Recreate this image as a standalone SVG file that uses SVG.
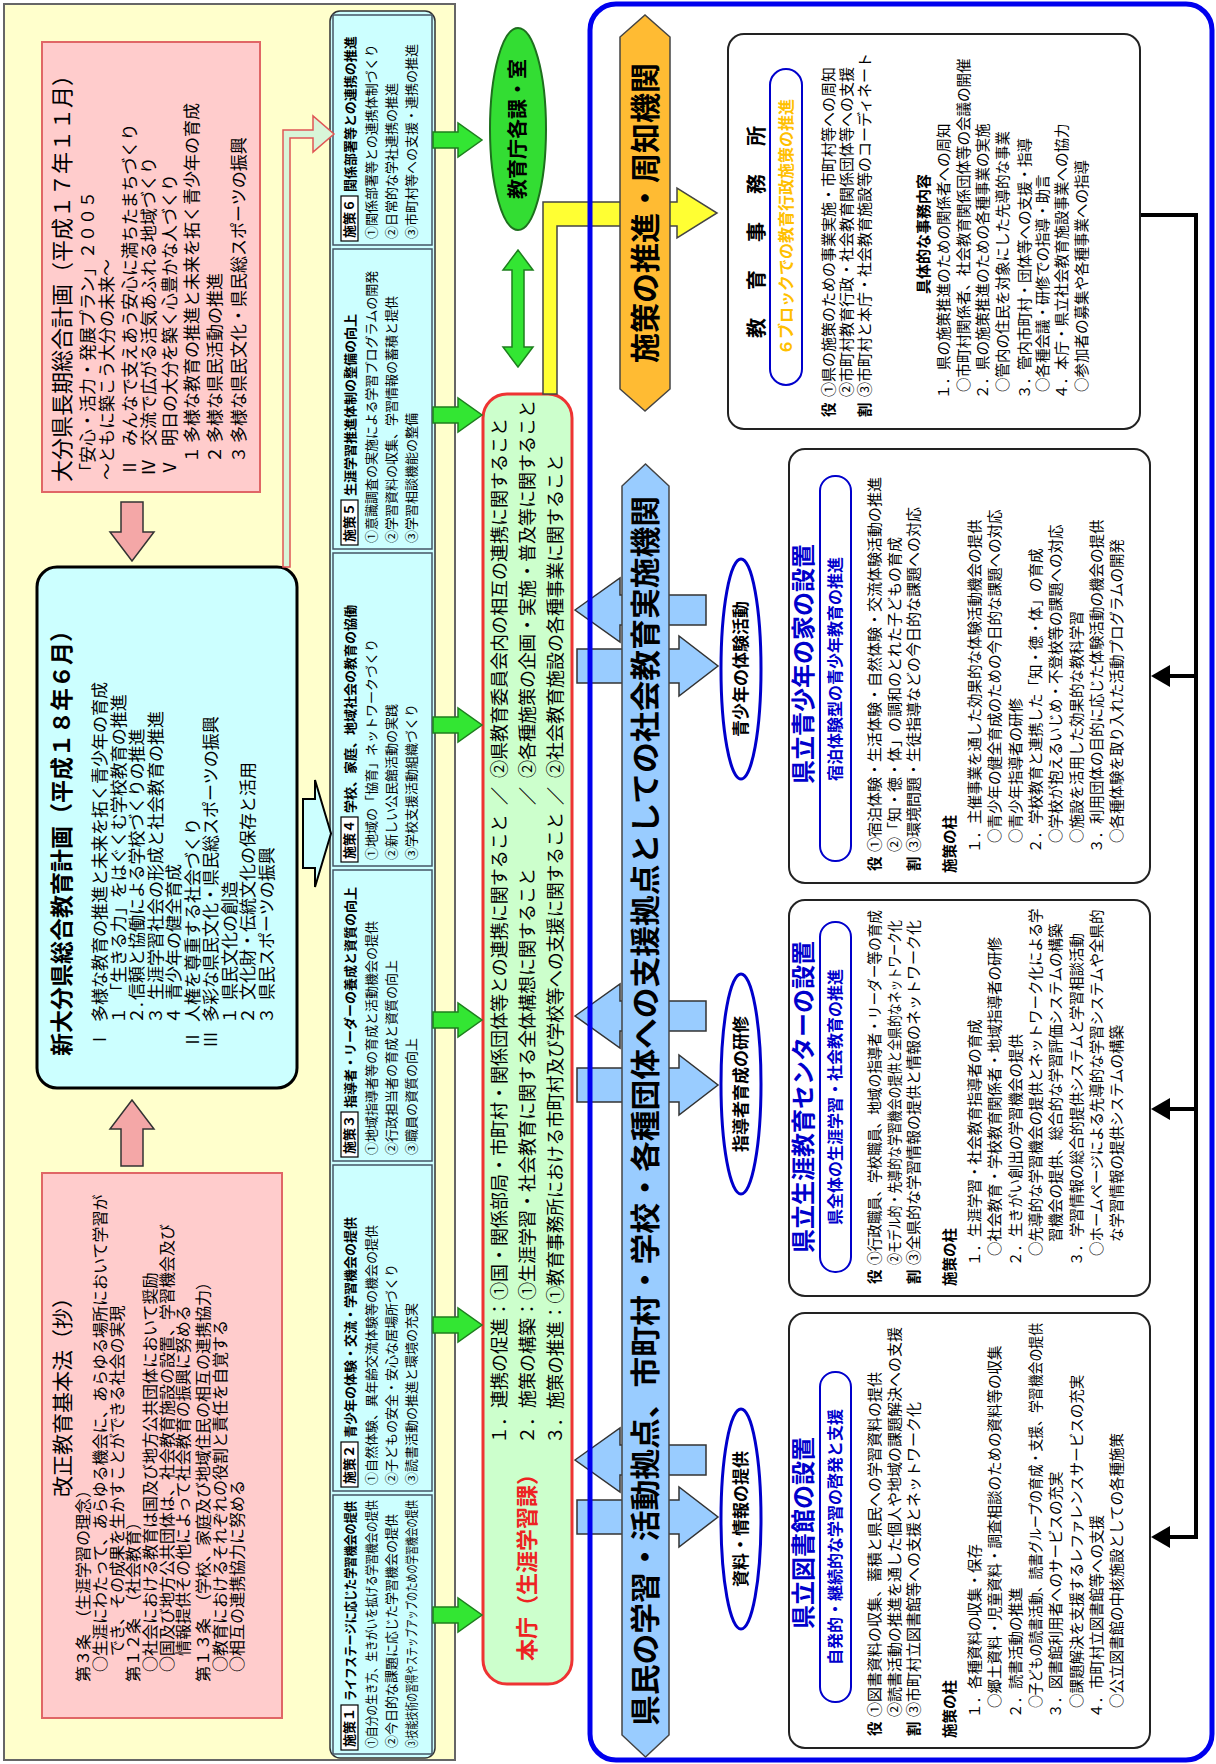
<svg xmlns="http://www.w3.org/2000/svg" width="1216" height="1764" viewBox="0 0 1216 1764">
<style>
text{font-family:"Noto Sans CJK JP","Noto Sans CJK SC",sans-serif;fill:#000}
.b{font-weight:bold}
.f13{font-size:13px}
.f14{font-size:14.5px}
.f15{font-size:15px}
.f16{font-size:16px}
.f17{font-size:17px}
.f18{font-size:18px}
.mid{text-anchor:middle}
.pinkbox{fill:#FFCCCC;stroke:#E06666;stroke-width:2}
.sbox{fill:#CCFFFF;stroke:#445566;stroke-width:1.5}
.lbl{fill:#fff;stroke:#000;stroke-width:1.2}
.parrow{fill:#F4A7A7;stroke:#333;stroke-width:1.5}
.garrow{fill:#33E633;stroke:#1E7F1E;stroke-width:1.5}
.barrow{fill:#99CCFF;stroke:#333;stroke-width:1.5}
.fbox{fill:#fff;stroke:#222;stroke-width:2}
.cap{fill:#fff;stroke:#0000CC;stroke-width:2}
.ell{fill:#fff;stroke:#0000CC;stroke-width:3}
.ft{font-size:24px;font-weight:bold;fill:#0000CC}
.ct{font-size:16px;font-weight:bold;fill:#0000CC}
.blk{stroke:#000;stroke-width:4;fill:none}
</style>
<rect width="1216" height="1764" fill="#fff"/>
<g transform="matrix(0,-1,1,0,0,1764)">
  <g id="panel-left">
    <rect x="4" y="4" width="1756" height="451" fill="#FFFFCC" stroke="#666" stroke-width="2"/>
  </g>
  <g id="panel-right-bg">
    <rect x="4" y="590" width="1756" height="622" rx="26" fill="#fff"/>
  </g>

  <g id="node-chouki">
    <rect class="pinkbox" x="1272" y="42" width="450" height="218"/>
    <text x="1282" y="70" style="font-size:22px">大分県長期総合計画（平成１７年１１月）</text>
    <text class="f17" x="1284" y="94">「安心・活力・発展プラン」２００５</text>
    <text class="f17" x="1284" y="113">～ともに築こう大分の未来～</text>
    <text class="f17" x="1288" y="136">Ⅱ</text><text class="f17" x="1318" y="136">みんなで支えあう安心に満ちたまちづくり</text>
    <text class="f17" x="1288" y="155">Ⅳ</text><text class="f17" x="1318" y="155">交流で広がる活気あふれる地域づくり</text>
    <text class="f17" x="1288" y="176">Ⅴ</text><text class="f17" x="1318" y="176">明日の大分を築く心豊かな人づくり</text>
    <text class="f17" x="1301" y="198">１</text><text class="f17" x="1321" y="198">多様な教育の推進と未来を拓く青少年の育成</text>
    <text class="f17" x="1301" y="221">２</text><text class="f17" x="1321" y="221">多様な県民活動の推進</text>
    <text class="f17" x="1301" y="245">３</text><text class="f17" x="1321" y="245">多様な県民文化・県民総スポーツの振興</text>
  </g>

  <g id="node-shin-keikaku">
    <rect x="676" y="37" width="521" height="260" rx="20" fill="#CCFFFF" stroke="#000" stroke-width="3"/>
    <text class="b" x="708" y="70" style="font-size:23px">新大分県総合教育計画（平成１８年６月）</text>
    <text class="f17" x="716" y="106">Ⅰ</text><text class="f17" x="742" y="106">多様な教育の推進と未来を拓く青少年の育成</text>
    <text class="f17" x="740" y="124.5">１</text><text class="f17" x="764" y="124.5">「生きる力」をはぐくむ学校教育の推進</text>
    <text class="f17" x="740" y="143">２.</text><text class="f17" x="764" y="143">信頼と協働による学校づくりの推進</text>
    <text class="f17" x="740" y="161.5">３</text><text class="f17" x="764" y="161.5">生涯学習社会の形成と社会教育の推進</text>
    <text class="f17" x="740" y="180">４</text><text class="f17" x="764" y="180">青少年の健全育成</text>
    <text class="f17" x="716" y="198.5">Ⅱ</text><text class="f17" x="742" y="198.5">人権を尊重する社会づくり</text>
    <text class="f17" x="716" y="217">Ⅲ</text><text class="f17" x="742" y="217">多彩な県民文化・県民総スポーツの振興</text>
    <text class="f17" x="740" y="235.5">１</text><text class="f17" x="764" y="235.5">県民文化の創造</text>
    <text class="f17" x="740" y="254">２</text><text class="f17" x="764" y="254">文化財・伝統文化の保存と活用</text>
    <text class="f17" x="740" y="272.5">３</text><text class="f17" x="764" y="272.5">県民スポーツの振興</text>
  </g>

  <g id="node-kaisei">
    <rect class="pinkbox" x="46" y="42" width="545" height="240"/>
    <text class="mid" x="372" y="70" style="font-size:21px">改正教育基本法（抄）</text>
    <text class="f16" x="82" y="89">第３条　（生涯学習の理念）</text>
    <text class="f16" x="92" y="106">○生涯にわたって、あらゆる機会に、あらゆる場所において学習が</text>
    <text class="f16" x="108" y="123">でき、その成果を生かすことができる社会の実現</text>
    <text class="f16" x="82" y="139">第１２条　（社会教育）</text>
    <text class="f16" x="92" y="156">○社会における教育は国及び地方公共団体において奨励</text>
    <text class="f16" x="92" y="173">○国及び地方公共団体は、社会教育施設の設置、学習機会及び</text>
    <text class="f16" x="108" y="189">情報提供その他によって社会教育の振興に努める</text>
    <text class="f16" x="82" y="209">第１３条　（学校、家庭及び地域住民の相互の連携協力）</text>
    <text class="f16" x="92" y="226">○教育におけるそれぞれの役割と責任を自覚する</text>
    <text class="f16" x="92" y="243">○相互の連携協力に努める</text>
  </g>

  <g id="node-shisaku-frame">
    <rect x="6" y="330" width="1747" height="105" rx="10" fill="#CCFFFF" stroke="#333" stroke-width="1.5"/>
  </g>
  <g id="node-shisaku1">
    <rect class="sbox" x="10" y="333" width="259" height="99"/>
    <rect class="lbl" x="14" y="341" width="45" height="17"/>
    <text class="b f13" x="17" y="354">施策１</text>
    <text class="b f13" x="63" y="355" textLength="200" lengthAdjust="spacingAndGlyphs">ライフステージに応じた学習機会の提供</text>
    <text class="f13" x="16" y="376" textLength="248" lengthAdjust="spacingAndGlyphs">①自分の生き方、生きがいを拡げる学習機会の提供</text>
    <text class="f13" x="16" y="396">②今日的な課題に応じた学習機会の提供</text>
    <text class="f13" x="16" y="416" textLength="248" lengthAdjust="spacingAndGlyphs">③技能技術の習得やステップアップのための学習機会の提供</text>
  </g>
  <g id="node-shisaku2">
    <rect class="sbox" x="273" y="333" width="326" height="99"/>
    <rect class="lbl" x="277" y="341" width="45" height="17"/>
    <text class="b f13" x="280" y="354">施策２</text>
    <text class="b f13" x="326" y="355">青少年の体験・交流・学習機会の提供</text>
    <text class="f13" x="279" y="376">①自然体験、異年齢交流体験等の機会の提供</text>
    <text class="f13" x="279" y="396">②子どもの安全・安心な居場所づくり</text>
    <text class="f13" x="279" y="416">③読書活動の推進と環境の充実</text>
  </g>
  <g id="node-shisaku3">
    <rect class="sbox" x="603" y="333" width="291" height="99"/>
    <rect class="lbl" x="607" y="341" width="45" height="17"/>
    <text class="b f13" x="610" y="354">施策３</text>
    <text class="b f13" x="656" y="355">指導者・リーダーの養成と資質の向上</text>
    <text class="f13" x="609" y="376">①地域指導者等の育成と活動機会の提供</text>
    <text class="f13" x="609" y="396">②行政担当者の育成と資質の向上</text>
    <text class="f13" x="609" y="416">③職員の資質の向上</text>
  </g>
  <g id="node-shisaku4">
    <rect class="sbox" x="898" y="333" width="313" height="99"/>
    <rect class="lbl" x="902" y="341" width="45" height="17"/>
    <text class="b f13" x="905" y="354">施策４</text>
    <text class="b f13" x="951" y="355">学校、家庭、地域社会の教育の協働</text>
    <text class="f13" x="904" y="376">①地域の「協育」ネットワークづくり</text>
    <text class="f13" x="904" y="396">②新しい公民館活動の実践</text>
    <text class="f13" x="904" y="416">③学校支援活動組織づくり</text>
  </g>
  <g id="node-shisaku5">
    <rect class="sbox" x="1215" y="333" width="300" height="99"/>
    <rect class="lbl" x="1219" y="341" width="45" height="17"/>
    <text class="b f13" x="1222" y="354">施策５</text>
    <text class="b f13" x="1268" y="355">生涯学習推進体制の整備の向上</text>
    <text class="f13" x="1221" y="376">①意識調査の実施による学習プログラムの開発</text>
    <text class="f13" x="1221" y="396">②学習資料の収集、学習情報の蓄積と提供</text>
    <text class="f13" x="1221" y="416">③学習相談機能の整備</text>
  </g>
  <g id="node-shisaku6">
    <rect class="sbox" x="1519" y="333" width="230" height="99"/>
    <rect class="lbl" x="1523" y="341" width="45" height="17"/>
    <text class="b f13" x="1526" y="354">施策６</text>
    <text class="b f13" x="1572" y="355">関係部署等との連携の推進</text>
    <text class="f13" x="1525" y="376">①関係部署等との連携体制づくり</text>
    <text class="f13" x="1525" y="396">②日常的な学社連携の推進</text>
    <text class="f13" x="1525" y="416">③市町村等への支援・連携の推進</text>
  </g>

  <g id="node-honcho">
    <rect x="80" y="483" width="1290" height="89" rx="24" fill="#CCFFCC" stroke="#EE3333" stroke-width="3"/>
    <text class="b" x="103" y="535" style="font-size:22px;fill:#EE2222">本庁（生涯学習課）</text>
    <text class="f18" x="320" y="506">１．連携の促進：①国・関係部局・市町村・関係団体等との連携に関すること</text>
    <text class="f18 mid" x="968" y="506">／</text>
    <text class="f18" x="986" y="506">②県教育委員会内の相互の連携に関すること</text>
    <text class="f18" x="320" y="534">２．施策の構築：①生涯学習・社会教育に関する全体構想に関すること</text>
    <text class="f18 mid" x="968" y="534">／</text>
    <text class="f18" x="986" y="534">②各種施策の企画・実施・普及等に関すること</text>
    <text class="f18" x="320" y="562" textLength="632" lengthAdjust="spacingAndGlyphs">３．施策の推進：①教育事務所における市町村及び学校等への支援に関すること</text>
    <text class="f18 mid" x="968" y="562">／</text>
    <text class="f18" x="986" y="562">②社会教育施設の各種事業に関すること</text>
  </g>

  <g id="node-kakuka">
    <ellipse cx="1635" cy="518" rx="101" ry="28" fill="#33DD33" stroke="#1E6F1E" stroke-width="2"/>
    <text class="b mid" x="1635" y="525" style="font-size:20px">教育庁各課・室</text>
  </g>

  <g id="connectors">
    <polygon class="parrow" points="1262,121 1232,121 1232,110 1203,132 1232,154 1232,143 1262,143"/>
    <polygon class="parrow" points="598,121 635,121 635,110 664,132 635,154 635,143 598,143"/>
    <polygon points="1197,283 1634,283 1634,313 1648,313 1630,334 1612,313 1626,313 1626,290 1197,290" fill="#D8F5D8" stroke="#E05555" stroke-width="1.5"/>
    <polygon points="896,303 965,303 965,315 984,315 930.5,331 877,315 896,315" fill="#CCFFFF" stroke="#000" stroke-width="2"/>
    <polygon class="garrow" points="1616,433 1632,433 1632,458 1641,458 1624,482 1607,458 1616,458"/>
    <polygon class="garrow" points="1341,433 1357,433 1357,458 1366,458 1349,482 1332,458 1341,458"/>
    <polygon class="garrow" points="1031,433 1047,433 1047,458 1056,458 1039,482 1022,458 1031,458"/>
    <polygon class="garrow" points="736,433 752,433 752,458 761,458 744,482 727,458 736,458"/>
    <polygon class="garrow" points="431,433 447,433 447,458 456,458 439,482 422,458 431,458"/>
    <polygon class="garrow" points="141,433 157,433 157,458 166,458 149,482 132,458 141,458"/>
    <polygon class="garrow" points="1397,518 1417,503 1417,512 1494,512 1494,503 1514,518 1494,533 1494,524 1417,524 1417,533"/>
    <polygon points="1370,543 1562,543 1562,677 1576,677 1551,717 1526,677 1538,677 1538,557 1370,557" fill="#FFFF33" stroke="#444" stroke-width="1.5"/>
    <polygon class="barrow" points="1154,575 1186,620 1169,620 1169,706 1139,706 1139,620 1122,620"/>
    <polygon class="barrow" points="1115,577 1115,679 1128,679 1098,718 1068,679 1081,679 1081,577"/>
    <polygon class="barrow" points="748,575 780,620 763,620 763,706 733,706 733,620 716,620"/>
    <polygon class="barrow" points="696,577 696,679 709,679 679,718 649,679 662,679 662,577"/>
    <polygon class="barrow" points="304,575 336,620 319,620 319,706 289,706 289,620 272,620"/>
    <polygon class="barrow" points="264,577 264,679 277,679 247,718 217,679 230,679 230,577"/>
    <path class="blk" d="M1549,1140 L1549,1196 L227,1196 L227,1168 M1088,1196 L1088,1168 M655,1196 L655,1168"/>
    <polygon points="1077,1170 1099,1170 1088,1151" fill="#000"/>
    <polygon points="644,1170 666,1170 655,1151" fill="#000"/>
    <polygon points="216,1170 238,1170 227,1151" fill="#000"/>
  </g>

  <g id="panel-right-frame">
    <rect x="4" y="590" width="1756" height="622" rx="26" fill="none" stroke="#0000EE" stroke-width="5"/>
  </g>

  <g id="node-suishin">
    <polygon points="1353,645 1375,620 1727,620 1749,645 1727,670 1375,670" fill="#FFBB33" stroke="#444" stroke-width="1.5"/>
    <text class="b mid" x="1551" y="656" style="font-size:30px">施策の推進・周知機関</text>
  </g>
  <g id="node-jisshi">
    <polygon points="7,645.5 29,622 1278,622 1300,645.5 1278,669 29,669" fill="#99CCFF" stroke="#444" stroke-width="1.5"/>
    <text class="b mid" x="653" y="656" style="font-size:30px" textLength="1230" lengthAdjust="spacingAndGlyphs">県民の学習・活動拠点、市町村・学校・各種団体への支援拠点としての社会教育実施機関</text>
  </g>

  <g id="node-ell-taiken">
    <ellipse class="ell" cx="1095" cy="741" rx="110" ry="20"/>
    <text class="b mid" x="1095" y="747" style="font-size:17px">青少年の体験活動</text>
  </g>
  <g id="node-ell-kenshu">
    <ellipse class="ell" cx="680" cy="741" rx="110" ry="20"/>
    <text class="b mid" x="680" y="747" style="font-size:17px">指導者育成の研修</text>
  </g>
  <g id="node-ell-shiryo">
    <ellipse class="ell" cx="245" cy="741" rx="110" ry="20"/>
    <text class="b mid" x="245" y="747" style="font-size:17px">資料・情報の提供</text>
  </g>

  <g id="node-jimusho">
    <rect class="fbox" x="1335" y="728" width="395" height="412" rx="16"/>
    <text class="b mid" x="1534" y="764" style="font-size:20px;letter-spacing:4px">教　育　事　務　所</text>
    <rect class="cap" x="1379" y="770" width="316" height="32" rx="16"/>
    <text class="b mid" x="1537" y="792" style="font-size:16px;fill:#FFC000">６ブロックでの教育行政施策の推進</text>
    <text class="b f14" x="1347" y="834">役</text>
    <text class="b f14" x="1347" y="870">割</text>
    <text class="f15" x="1367" y="834">①県の施策のための事業実施・市町村等への周知</text>
    <text class="f15" x="1367" y="852">②市町村教育行政・社会教育関係団体等への支援</text>
    <text class="f15" x="1367" y="870">③市町村と本庁・社会教育施設等のコーディネート</text>
    <text class="b mid" x="1530" y="929" style="font-size:15px">具体的な事務内容</text>
    <text class="f14" x="1365" y="949">１．県の施策推進のための関係者への周知</text>
    <text class="f14" x="1372" y="969">○市町村関係者、社会教育関係団体等の会議の開催</text>
    <text class="f14" x="1365" y="988">２．県の施策推進のための各種事業の実施</text>
    <text class="f14" x="1372" y="1008">○管内の住民を対象にした先導的な事業</text>
    <text class="f14" x="1365" y="1030">３．管内市町村・団体等への支援・指導</text>
    <text class="f14" x="1372" y="1048">○各種会議・研修での指導・助言</text>
    <text class="f14" x="1365" y="1067">４．本庁・県立社会教育施設事業への協力</text>
    <text class="f14" x="1372" y="1087">○参加者の募集や各種事業への指導</text>
  </g>

  <g id="node-seishonen">
    <rect class="fbox" x="881" y="789" width="434" height="361" rx="16"/>
    <text class="ft mid" x="1100" y="812">県立青少年の家の設置</text>
    <rect class="cap" x="903" y="820" width="385" height="31" rx="15"/>
    <text class="ct mid" x="1095" y="841">宿泊体験型の青少年教育の推進</text>
    <text class="b f14" x="893" y="880">役</text>
    <text class="b f14" x="893" y="919">割</text>
    <text class="f15" x="912" y="880">①宿泊体験・生活体験・自然体験・交流体験活動の推進</text>
    <text class="f15" x="912" y="900">②「知・徳・体」の調和のとれた子どもの育成</text>
    <text class="f15" x="912" y="919">③環境問題・生徒指導などの今日的な課題への対応</text>
    <text class="b f14" x="891" y="955">施策の柱</text>
    <text class="f14" x="911" y="980">１．主催事業を通した効果的な体験活動機会の提供</text>
    <text class="f14" x="921" y="1000">○青少年の健全育成のための今日的な課題への対応</text>
    <text class="f14" x="921" y="1021">○青少年指導者の研修</text>
    <text class="f14" x="911" y="1041">２．学校教育と連携した「知・徳・体」の育成</text>
    <text class="f14" x="921" y="1061">○学校が抱えるいじめ・不登校等の課題への対応</text>
    <text class="f14" x="921" y="1082">○施設を活用した効果的な教科学習</text>
    <text class="f14" x="911" y="1102">３．利用団体の目的に応じた体験活動の機会の提供</text>
    <text class="f14" x="921" y="1122">○各種体験を取り入れた活動プログラムの開発</text>
  </g>

  <g id="node-center">
    <rect class="fbox" x="468" y="789" width="396" height="361" rx="16"/>
    <text class="ft mid" x="667" y="812">県立生涯教育センターの設置</text>
    <rect class="cap" x="492" y="820" width="350" height="31" rx="15"/>
    <text class="ct mid" x="667" y="841">県全体の生涯学習・社会教育の推進</text>
    <text class="b f14" x="480" y="880">役</text>
    <text class="b f14" x="480" y="919">割</text>
    <text class="f15" x="499" y="880" textLength="355" lengthAdjust="spacingAndGlyphs">①行政職員、学校職員、地域の指導者・リーダー等の育成</text>
    <text class="f15" x="499" y="900" textLength="345" lengthAdjust="spacingAndGlyphs">②モデル的・先導的な学習機会の提供と全県的なネットワーク化</text>
    <text class="f15" x="499" y="919">③全県的な学習情報の提供と情報のネットワーク化</text>
    <text class="b f14" x="478" y="955">施策の柱</text>
    <text class="f14" x="498" y="980">１．生涯学習・社会教育指導者の育成</text>
    <text class="f14" x="508" y="1000">○社会教育・学校教育関係者・地域指導者の研修</text>
    <text class="f14" x="498" y="1021">２．生きがい創出の学習機会の提供</text>
    <text class="f14" x="508" y="1041">○先導的な学習機会の提供とネットワーク化による学</text>
    <text class="f14" x="522" y="1061">習機会の提供、総合的な学習評価システムの構築</text>
    <text class="f14" x="498" y="1082">３．学習情報の総合的提供システムと学習相談活動</text>
    <text class="f14" x="508" y="1102">○ホームページによる先導的な学習システムや全県的</text>
    <text class="f14" x="522" y="1122">な学習情報の提供システムの構築</text>
  </g>

  <g id="node-toshokan">
    <rect class="fbox" x="16" y="789" width="435" height="361" rx="16"/>
    <text class="ft mid" x="231" y="812">県立図書館の設置</text>
    <rect class="cap" x="62" y="820" width="330" height="31" rx="15"/>
    <text class="ct mid" x="227" y="841">自発的・継続的な学習の啓発と支援</text>
    <text class="b f14" x="28" y="880">役</text>
    <text class="b f14" x="28" y="919">割</text>
    <text class="f15" x="47" y="880">①図書資料の収集、蓄積と県民への学習資料の提供</text>
    <text class="f15" x="47" y="900">②読書活動の推進を通した個人や地域の課題解決への支援</text>
    <text class="f15" x="47" y="919">③市町村立図書館等への支援とネットワーク化</text>
    <text class="b f14" x="26" y="955">施策の柱</text>
    <text class="f14" x="46" y="980">１．各種資料の収集・保存</text>
    <text class="f14" x="56" y="1000">○郷土資料・児童資料・調査相談のための資料等の収集</text>
    <text class="f14" x="46" y="1021">２．読書活動の推進</text>
    <text class="f14" x="56" y="1041" textLength="385" lengthAdjust="spacingAndGlyphs">○子どもの読書活動、読書グループの育成・支援、学習機会の提供</text>
    <text class="f14" x="46" y="1061">３．図書館利用者へのサービスの充実</text>
    <text class="f14" x="56" y="1082">○課題解決を支援するレファレンスサービスの充実</text>
    <text class="f14" x="46" y="1102">４．市町村立図書館等への支援</text>
    <text class="f14" x="56" y="1122">○公立図書館の中核施設としての各種施策</text>
  </g>
</g>
</svg>
